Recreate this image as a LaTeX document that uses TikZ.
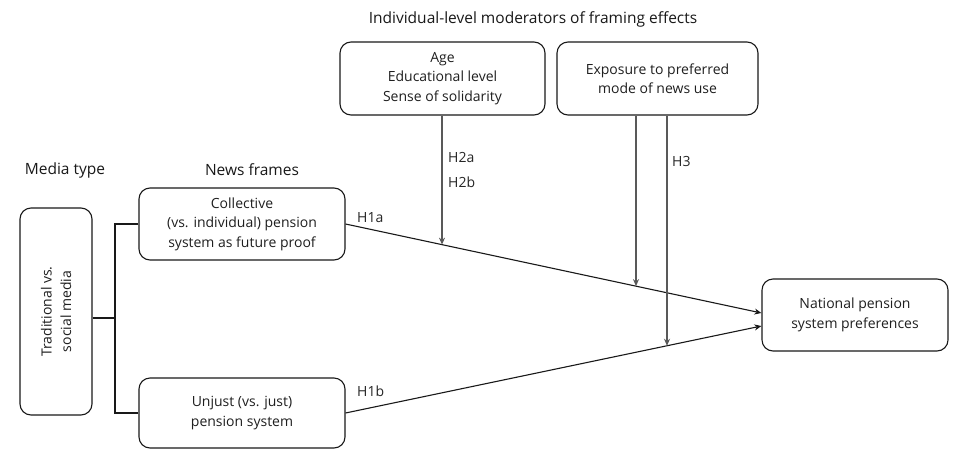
\documentclass[tikz,border=0pt]{standalone}
\usepackage{fontspec}
\setmainfont{Open Sans}
\usetikzlibrary{arrows.meta,calc}
\begin{document}
\begin{tikzpicture}[x=1pt,y=-1pt,
  box/.style={draw=black!90,rounded corners=11pt,line width=1.1pt,align=center,
    font=\fontsize{14}{19.5}\selectfont,inner sep=0pt,text=black!88},
  head/.style={font=\fontsize{15.5}{18}\selectfont,text=black!90},
  hlab/.style={font=\fontsize{14}{16}\selectfont,anchor=west,inner sep=0pt,text=black!85},
  path/.style={draw=black!90,line width=1.1pt},
  arr/.style={path,-{Stealth[length=7pt,width=6pt]}},
  mod/.style={draw=black!65,line width=1.3pt,-{Stealth[length=7pt,width=6pt]},color=black!65}]
\useasboundingbox (0,0) rectangle (960,450);
\fill[white] (0,0) rectangle (960,450);

% headings
\node[head] (t1) at (533,19) {Individual-level moderators of framing effects};
\node[head] (t2) at (65,170) {Media type};
\node[head] (t3) at (252,170) {News frames};

% boxes
\node[box,minimum width=205,minimum height=73] (age) at (442.5,78.5) {Age\\Educational level\\Sense of solidarity};
\node[box,minimum width=201,minimum height=73] (exp) at (657.5,78.5) {Exposure to preferred\\mode of news use};
\node[box,minimum width=206,minimum height=72] (coll) at (242,224) {Collective\\(vs. individual) pension\\system as future proof};
\node[box,minimum width=206,minimum height=70] (unj) at (242,413) {Unjust (vs. just)\\pension system};
\node[box,minimum width=72,minimum height=207] (media) at (56,311.5) {};
\node[font=\fontsize{14}{19.5}\selectfont,align=center,rotate=90,text=black!88] (mtext) at (media.center) {Traditional vs.\\social media};
\node[box,minimum width=186,minimum height=72] (nat) at (855,315) {National pension\\system preferences};

% media connector
\coordinate (j) at (115,318);
\draw[path] (media.east |- j) -- (j);
\draw[path] (coll.west) -| (j) |- (unj.west);

% main paths
\coordinate (a1) at ([yshift=2]nat.west);
\coordinate (b1) at ([yshift=-11]nat.west);
\draw[arr] (coll.east) -- (a1);
\draw[arr] (unj.east) -- (b1);

% moderator arrows
\coordinate (m1) at (intersection of coll.east--a1 and 442,0--442,450);
\coordinate (m2) at (intersection of coll.east--a1 and 636,0--636,450);
\coordinate (m3) at (intersection of unj.east--b1 and 667,0--667,450);
\draw[mod] (age.south -| m1) -- (m1);
\draw[mod] (exp.south -| m2) -- (m2);
\draw[mod] (exp.south -| m3) -- (m3);

% labels
\node[hlab] (h1a) at (357,218) {H1a};
\node[hlab] (h1b) at (357,391) {H1b};
\node[hlab] (h2a) at (448,157) {H2a};
\node[hlab] (h2b) at (448,182) {H2b};
\node[hlab] (h3) at (672,161) {H3};
\end{tikzpicture}
\end{document}
